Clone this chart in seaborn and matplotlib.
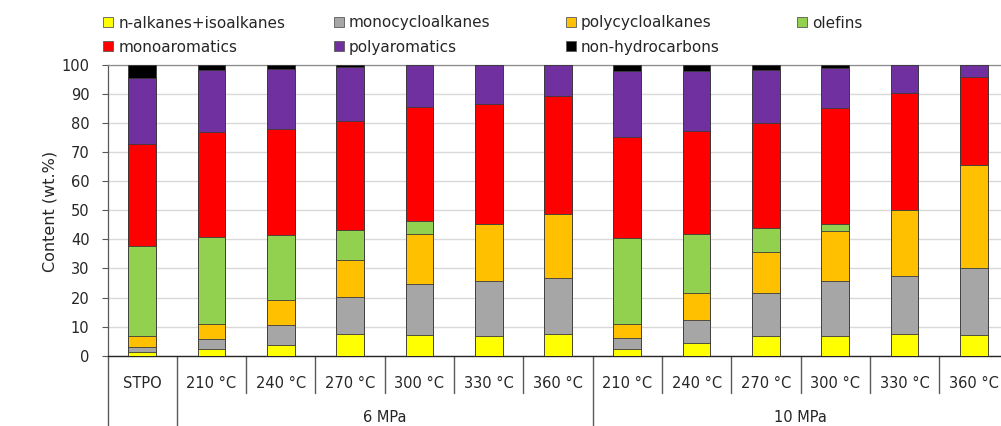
import numpy as np
import pandas as pd
import matplotlib
matplotlib.use("Agg")
import matplotlib.pyplot as plt
import matplotlib.transforms as mtransforms
from matplotlib.patches import Patch
import seaborn as sns

# Samples (unique keys) and the labels shown under each bar
samples = ["STPO",
           "6MPa-210", "6MPa-240", "6MPa-270", "6MPa-300", "6MPa-330", "6MPa-360",
           "10MPa-210", "10MPa-240", "10MPa-270", "10MPa-300", "10MPa-330", "10MPa-360"]
tick_labels = ["STPO",
               "210 °C", "240 °C", "270 °C", "300 °C", "330 °C", "360 °C",
               "210 °C", "240 °C", "270 °C", "300 °C", "330 °C", "360 °C"]
pressure_groups = ["6 MPa", "10 MPa"]

# Composition of each product (wt.%)
n_iso_alkanes     = [1.3, 2.4, 3.8, 7.5, 7.1, 6.9, 7.4, 2.4, 4.5, 6.9, 6.9, 7.5, 7.1]
monocycloalkanes  = [1.8, 3.3, 6.7, 12.7, 17.4, 18.7, 19.3, 3.6, 7.9, 14.5, 18.7, 19.9, 23.1]
polycycloalkanes  = [3.7, 5.2, 8.5, 12.6, 17.5, 19.6, 22.2, 4.9, 9.0, 14.2, 17.4, 22.6, 35.3]
olefins           = [31.1, 30.0, 22.4, 10.3, 4.3, 0.0, 0.0, 29.6, 20.6, 8.3, 2.3, 0.0, 0.0]
monoaromatics     = [35.0, 36.0, 36.5, 37.8, 39.2, 41.5, 40.5, 34.8, 35.4, 36.2, 39.9, 40.5, 30.5]
polyaromatics     = [22.7, 21.3, 20.8, 18.5, 14.5, 13.3, 10.6, 22.6, 20.4, 18.1, 13.7, 9.5, 4.0]
non_hydrocarbons  = [4.4, 1.8, 1.3, 0.6, 0.0, 0.0, 0.0, 2.1, 2.2, 1.8, 1.1, 0.0, 0.0]

series_names = ["n-alkanes+isoalkanes", "monocycloalkanes", "polycycloalkanes", "olefins",
                "monoaromatics", "polyaromatics", "non-hydrocarbons"]
series_values = [n_iso_alkanes, monocycloalkanes, polycycloalkanes, olefins,
                 monoaromatics, polyaromatics, non_hydrocarbons]
series_colors = ["#FFFF00", "#A6A6A6", "#FFC000", "#92D050", "#FF0000", "#7030A0", "#000000"]

sns.set_theme(style="white")
plt.rcParams["font.family"] = ["DejaVu Sans"]
plt.rcParams["font.size"] = 10.5
text_color = "#262626"

W, H = 1001, 426
fig = plt.figure(figsize=(W / 100, H / 100), dpi=100)
ax_left, ax_right, ax_top, ax_bottom = 107.5, 1008.5, 65.0, 355.7
ax = fig.add_axes([ax_left / W, 1 - ax_bottom / H,
                   (ax_right - ax_left) / W, (ax_bottom - ax_top) / H])

# Stacked bars: draw cumulative totals from the top layer down
df = pd.DataFrame({"sample": samples})
cum = np.cumsum(np.array(series_values), axis=0)
edge = "#3a3a3a"
for k in range(len(series_names) - 1, -1, -1):
    df["total"] = cum[k]
    sns.barplot(data=df, x="sample", y="total", order=samples, color=series_colors[k],
                saturation=1, width=0.4, edgecolor=edge, linewidth=0.6, ax=ax, zorder=3)

ax.set_xlim(-0.5, len(samples) - 0.5)
ax.set_ylim(0, 100)
ax.set_yticks(np.arange(0, 101, 10))
ax.yaxis.grid(True, color="#D9D9D9", linewidth=1.0, zorder=0)
ax.set_axisbelow(True)
ax.set_xlabel("")
ax.set_ylabel("")
ax.set_xticks([])
ax.tick_params(axis="y", which="major", direction="out", length=4, width=0.8,
               color="#595959", pad=9, labelsize=10.5, labelcolor=text_color, left=True)

for side in ["left", "top", "right"]:
    ax.spines[side].set_color("#8c8c8c")
    ax.spines[side].set_linewidth(0.9)
ax.spines["left"].set_color("#595959")
ax.spines["bottom"].set_color("#262626")
ax.spines["bottom"].set_linewidth(1.0)

# Category axis: labels, separators and pressure groups below the plot
trans = mtransforms.blended_transform_factory(ax.transData, ax.transAxes)
ax_h = ax_bottom - ax_top
short_y = -(393 - ax_bottom) / ax_h
long_y = -(H - ax_bottom) / ax_h
label_y = -(383 - ax_bottom) / ax_h
group_y = -(418 - ax_bottom) / ax_h

for i, lab in enumerate(tick_labels):
    ax.text(i, label_y, lab, transform=trans, ha="center", va="center",
            fontsize=10.5, color=text_color)

long_edges = [-0.5, 0.5, 6.5, 12.5]
for i in range(len(samples) + 1):
    xe = i - 0.5
    y_end = long_y if xe in long_edges else short_y
    ax.plot([xe, xe], [0, y_end], transform=trans, color="#595959",
            linewidth=1.0, clip_on=False)

ax.text(3.5, group_y, pressure_groups[0], transform=trans, ha="center", va="center",
        fontsize=10.5, color=text_color)
ax.text(9.5, group_y, pressure_groups[1], transform=trans, ha="center", va="center",
        fontsize=10.5, color=text_color)

fig.text(50 / W, 1 - 211 / H, "Content (wt.%)", rotation=90, ha="center", va="center",
         fontsize=11.5, color=text_color)

# Legend laid out in four evenly spaced columns
handles = [Patch(facecolor=c, edgecolor="#595959", linewidth=0.6) for c in series_colors]
columns = [[0, 4], [1, 5], [2, 6], [3]]
col_x = [103, 334, 566, 797]
for cx, idxs in zip(col_x, columns):
    fig.legend([handles[i] for i in idxs], [series_names[i] for i in idxs],
               loc="upper left", bbox_to_anchor=(cx / W, 1 - 15.5 / H),
               frameon=False, borderpad=0, borderaxespad=0,
               handlelength=0.66, handleheight=0.6, handletextpad=0.33,
               labelspacing=0.6, fontsize=11, labelcolor=text_color)

fig.savefig("out.png", dpi=100)
